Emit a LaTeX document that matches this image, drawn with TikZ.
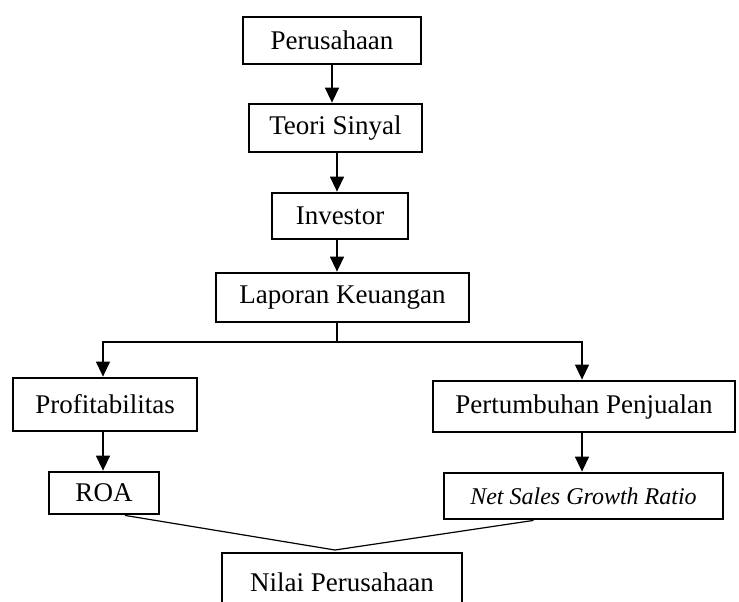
\documentclass[tikz,border=0pt]{standalone}
\usepackage{fontspec}
\setmainfont{Liberation Serif}
\usepackage{tikz}
\usetikzlibrary{arrows.meta,positioning,calc}

\begin{document}
\begin{tikzpicture}[
    x=0.5pt, y=-0.5pt,
    box/.style={rectangle, draw=black, line width=1.4pt, inner sep=0pt, align=center, font=\fontsize{13.5}{16}\selectfont},
    arr/.style={-{Triangle[width=7pt,length=7.5pt]}, line width=0.7pt},
    ln/.style={line width=0.6pt}
]
    \clip (0,0) rectangle (739,601);

    \node [box, minimum width=89pt, minimum height=23.5pt] (per) at (332,40.5) {Perusahaan};
    \node [box, minimum width=86.5pt, minimum height=24pt] (teori) at (335.5,128) {Teori Sinyal};
    \node [box, minimum width=68pt, minimum height=23pt] (inv) at (340,216) {Investor};
    \node [box, minimum width=126.5pt, minimum height=24.5pt] (lap) at (342.5,297.5) {Laporan Keuangan};

    \node [box, minimum width=92pt, minimum height=26.5pt] (prof) at (105,404.5) {Profitabilitas};
    \node [box, minimum width=151pt, minimum height=25.5pt] (pert) at (584,406.5) {Pertumbuhan Penjualan};
    \node [box, minimum width=55pt, minimum height=21pt] (roa) at (104,493) {ROA};
    \node [box, minimum width=139.5pt, minimum height=23pt, font=\fontsize{12}{14}\selectfont\itshape] (nsg) at (583.5,496) {Net Sales Growth Ratio};
    \node [box, minimum width=120pt, minimum height=29pt] (nilai) at (342,582) {Nilai Perusahaan};

    \coordinate (split) at (337,342);
    \coordinate (meet) at (335,550);

    \draw [arr] (per.south) -- (per.south |- teori.north);
    \draw [arr] (teori.south -| 337,0) -- (inv.north -| 337,0);
    \draw [arr] (inv.south -| 337,0) -- (lap.north -| 337,0);

    \draw [ln] (lap.south -| split) -- (split);
    \draw [arr, line width=0.6pt] (split) -| (prof.north -| 103,0);
    \draw [arr, line width=0.6pt] (split) -| (pert.north -| 582,0);

    \draw [arr] (prof.south -| 103,0) -- (roa.north -| 103,0);
    \draw [arr] (pert.south -| 582,0) -- (nsg.north -| 582,0);

    \draw [ln] ([xshift=10.5pt]roa.south) -- (meet);
    \draw [ln] ([xshift=-25pt]nsg.south) -- (meet);
\end{tikzpicture}
\end{document}
